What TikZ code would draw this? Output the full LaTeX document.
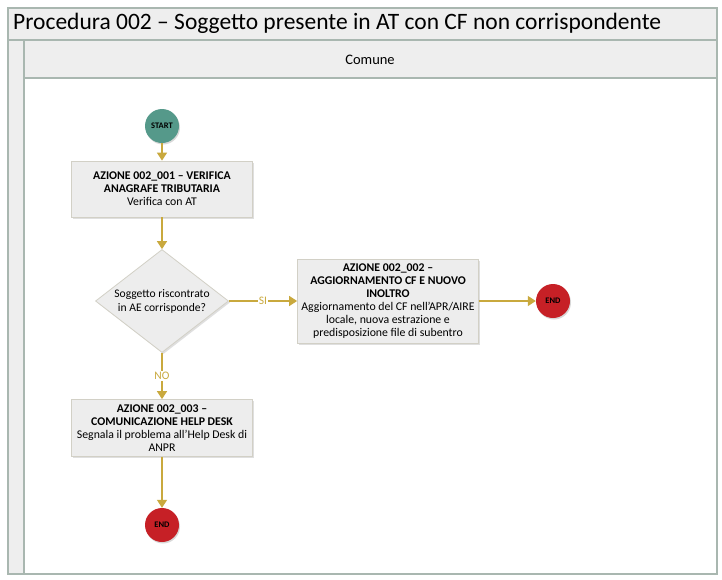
\documentclass[tikz,border=0pt]{standalone}
\usepackage{fontspec}
\setmainfont{Carlito}
\usetikzlibrary{arrows.meta,shapes.geometric,shadows}
\definecolor{flowgold}{HTML}{C9A93E}
\definecolor{boxfill}{HTML}{EDEDED}
\definecolor{boxline}{HTML}{D2D0C6}
\definecolor{startgreen}{HTML}{55998A}
\definecolor{endred}{HTML}{C62026}
\definecolor{laneline}{HTML}{A9B7B0}
\definecolor{lanefill}{HTML}{EEEEEE}
\tikzset{
  x=1pt,y=-1pt,
  actbox/.style={draw=boxline,fill=boxfill,line width=0.8pt,minimum width=181pt,minimum height=56pt,
    align=center,font=\fontsize{11.8}{13}\selectfont,inner sep=2pt,
    drop shadow={shadow xshift=1.5pt,shadow yshift=-1.5pt,opacity=0.25}},
  decbox/.style={draw=boxline,fill=boxfill,line width=0.8pt,diamond,minimum width=133pt,minimum height=103pt,
    inner sep=0pt,
    drop shadow={shadow xshift=1.5pt,shadow yshift=-1.5pt,opacity=0.25}},
  dectext/.style={align=center,font=\fontsize{11.6}{14}\selectfont,inner sep=0pt},
  evt/.style={circle,minimum size=34pt,inner sep=0pt,font=\bfseries\fontsize{8.5}{9}\selectfont,
    drop shadow={shadow xshift=1pt,shadow yshift=-1.5pt,opacity=0.3}},
  flow/.style={draw=flowgold,line width=1.4pt,-{Triangle[length=8pt,width=10pt]}},
  flowlbl/.style={text=flowgold,font=\fontsize{11.5}{12}\selectfont,fill=white,inner sep=1pt}
}
\begin{document}
\begin{tikzpicture}
\useasboundingbox (0,0) rectangle (722,579);
\fill[white] (0,0) rectangle (722,579);
% pool frame
\draw[laneline,fill=lanefill,line width=1.2pt] (8,8) rectangle (717,574);
\node[anchor=west,font=\fontsize{23.5}{25}\selectfont,inner sep=0pt] (title) at (13,23) {Procedura 002 – Soggetto presente in AT con CF non corrispondente};
\draw[laneline,line width=1.2pt] (8,40) -- (717,40);
\draw[laneline,line width=1.2pt] (24,40) -- (24,574);
\draw[laneline,line width=1.2pt] (24,78) -- (717,78);
\node[font=\fontsize{14.5}{16}\selectfont] (lane) at (370,60) {Comune};
\fill[white] (25,79) rectangle (716,573);
% nodes
\node[evt,fill=startgreen] (start) at (162,126) {START};
\node[actbox] (a1) at (162,189) {\textbf{AZIONE 002\_001 – VERIFICA}\\\textbf{ANAGRAFE TRIBUTARIA}\\Verifica con AT};
\node[decbox] (d) at (162,301) {};
\node[dectext] (dt) at (162,301) {Soggetto riscontrato\\in AE corrisponde?};
\node[actbox,minimum height=84pt] (a2) at (388,301) {\textbf{AZIONE 002\_002 –}\\\textbf{AGGIORNAMENTO CF E NUOVO}\\\textbf{INOLTRO}\\Aggiornamento del CF nell’APR/AIRE\\locale, nuova estrazione e\\predisposizione file di subentro};
\node[evt,fill=endred] (e1) at (553,301) {END};
\node[actbox,minimum height=57pt] (a3) at (162,428) {\textbf{AZIONE 002\_003 –}\\\textbf{COMUNICAZIONE HELP DESK}\\Segnala il problema all’Help Desk di\\ANPR};
\node[evt,fill=endred] (e2) at (162,525) {END};
% connectors
\draw[flow] (start) -- (a1);
\draw[flow] (a1) -- (d);
\draw[flow] (d) -- node[flowlbl,pos=0.5] (si) {SI} (a2);
\draw[flow] (d) -- node[flowlbl,pos=0.5] (no) {NO} (a3);
\draw[flow] (a2) -- (e1);
\draw[flow] (a3) -- (e2);
\end{tikzpicture}
\end{document}
